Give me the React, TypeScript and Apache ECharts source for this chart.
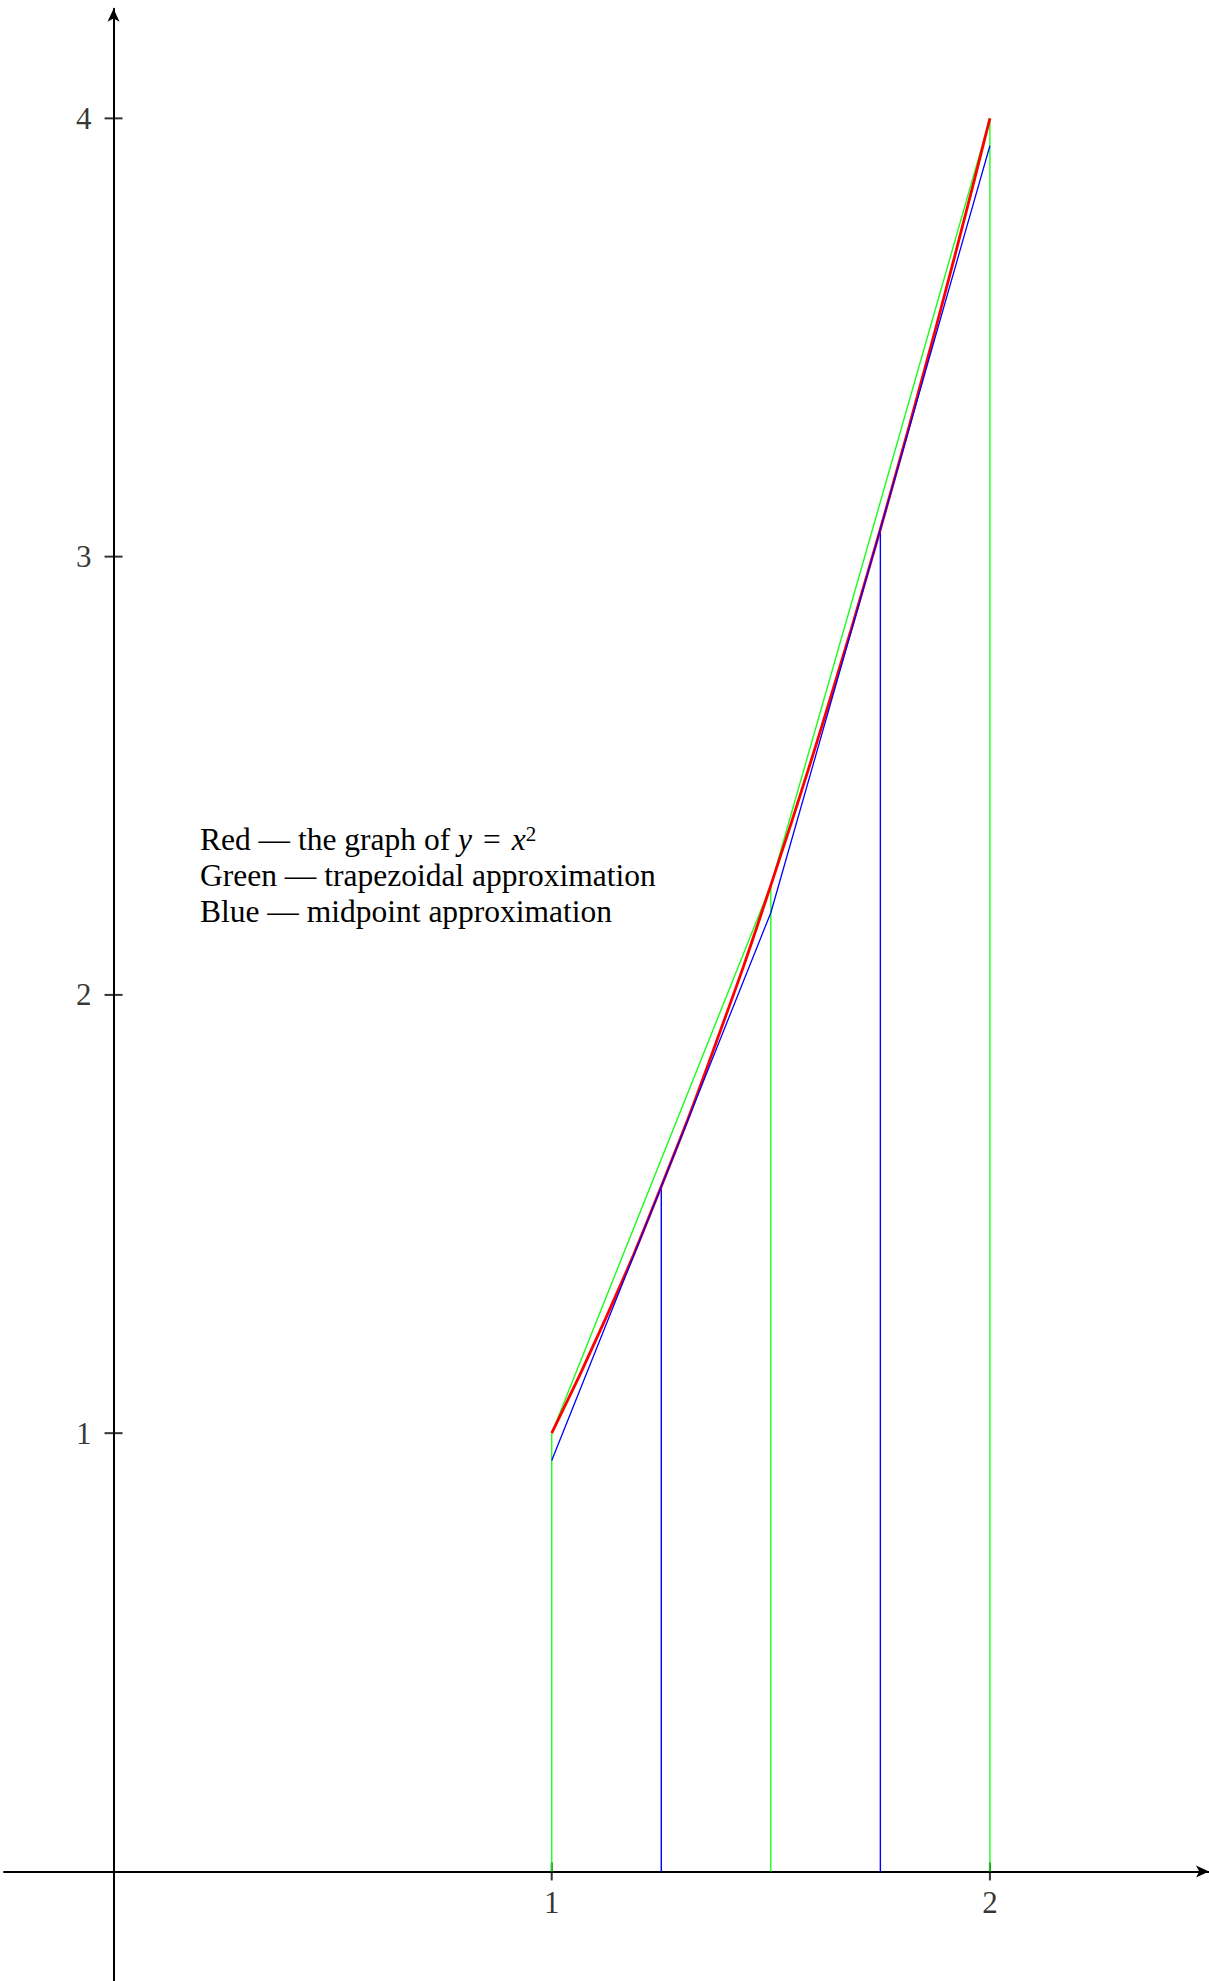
import React, { useEffect, useRef } from "react";
import * as echarts from "echarts";

// Red: y = x^2
const redX = [1, 1.125, 1.25, 1.375, 1.5, 1.625, 1.75, 1.875, 2];
const redY = [1, 1.266, 1.563, 1.891, 2.25, 2.641, 3.063, 3.516, 4];
// Green: trapezoidal approximation
const trapX = [1, 1.5, 2];
const trapY = [1, 2.25, 4];
// Blue: midpoint (tangent) approximation
const midX = [1, 1.25, 1.5, 1.75, 2];
const midY = [0.9375, 1.5625, 2.1875, 3.0625, 3.9375];
const midBarX = [1.25, 1.75];
const midBarY = [1.5625, 3.0625];
// Axis ticks
const xTicks = [1, 2];
const yTicks = [1, 2, 3, 4];
const legendLines = [
  "Red — the graph of ",
  "Green — trapezoidal approximation",
  "Blue — midpoint approximation",
];

const FONT = "'Liberation Serif', 'DejaVu Serif', serif";
const GREEN = "rgba(0,255,0,0.9)";
const BLUE = "#0000ff";
const RED = "#ff0000";
const FS = 31.5;

export default function App() {
  const ref = useRef<HTMLDivElement>(null);
  useEffect(() => {
    if (!ref.current) return;
    const chart = echarts.init(ref.current, undefined, { renderer: "svg" });
    const pair = (xs: number[], ys: number[]) => xs.map((x, i) => [x, ys[i]]);
    const verticals = (xs: number[], ys: number[], color: string, name: string) =>
      xs.map((x, i) => ({
        type: "line",
        name,
        data: [
          [x, 0],
          [x, ys[i]],
        ],
        symbol: "none",
        lineStyle: { color, width: 1.4 },
        z: 3,
      }));
    const axisLine = {
      onZero: true,
      symbol: ["none", "arrow"],
      symbolSize: [9, 13],
      lineStyle: { color: "#000", width: 2 },
    };
    const option: any = {
      animation: false,
      grid: { left: 4, right: 0, top: 8.8, bottom: 0, containLabel: false },
      xAxis: {
        type: "value",
        min: -0.25,
        max: 2.5,
        axisLine,
        axisTick: { show: false },
        axisLabel: { show: false },
        splitLine: { show: false },
      },
      yAxis: {
        type: "value",
        min: -0.25,
        max: 4.25,
        axisLine,
        axisTick: { show: false },
        axisLabel: { show: false },
        splitLine: { show: false },
      },
      series: [
        {
          type: "scatter",
          name: "xticks",
          data: xTicks.map((x) => [x, 0]),
          symbol: "rect",
          symbolSize: [2, 18],
          itemStyle: { color: "#000" },
          label: {
            show: true,
            position: "bottom",
            distance: 7,
            formatter: (p: any) => String(p.value[0]),
            fontFamily: FONT,
            fontSize: 31,
            color: "#000",
          },
          z: 2,
        },
        {
          type: "scatter",
          name: "yticks",
          data: yTicks.map((y) => [0, y]),
          symbol: "rect",
          symbolSize: [18, 2],
          itemStyle: { color: "#000" },
          label: {
            show: true,
            position: "left",
            distance: 13,
            formatter: (p: any) => String(p.value[1]),
            fontFamily: FONT,
            fontSize: 31,
            color: "#000",
          },
          z: 2,
        },
        ...verticals(trapX, trapY, GREEN, "trapbars"),
        {
          type: "line",
          name: "trapezoid",
          data: pair(trapX, trapY),
          symbol: "none",
          lineStyle: { color: GREEN, width: 1.4 },
          z: 3,
        },
        {
          type: "line",
          name: "x^2",
          data: pair(redX, redY),
          symbol: "none",
          smooth: true,
          lineStyle: { color: RED, width: 2.8 },
          z: 4,
        },
        ...verticals(midBarX, midBarY, BLUE, "midbars"),
        {
          type: "line",
          name: "midpoint",
          data: pair(midX, midY),
          symbol: "none",
          lineStyle: { color: BLUE, width: 1.3 },
          z: 5,
        },
      ],
      graphic: [
        {
          type: "text",
          left: 200,
          top: 823,
          style: {
            text: legendLines[0] + "{i|y}{eq|=}{i|x}{s|2}",
            font: `${FS}px ${FONT}`,
            fill: "#000",
            rich: {
              i: { fontFamily: FONT, fontSize: FS, fontStyle: "italic", fill: "#000" },
              eq: { fontFamily: FONT, fontSize: FS, fill: "#000", padding: [0, 11, 0, 11] },
              s: {
                fontFamily: FONT,
                fontSize: 21,
                fill: "#000",
                verticalAlign: "top",
                lineHeight: 26,
              },
            },
          },
        },
        {
          type: "text",
          left: 200,
          top: 859,
          style: { text: legendLines[1], font: `${FS}px ${FONT}`, fill: "#000" },
        },
        {
          type: "text",
          left: 200,
          top: 895,
          style: { text: legendLines[2], font: `${FS}px ${FONT}`, fill: "#000" },
        },
      ],
    };
    chart.setOption(option);
    return () => chart.dispose();
  }, []);
  return (
    <div
      ref={ref}
      style={{ position: "absolute", left: 0, top: 0, width: 1209, height: 1981 }}
    />
  );
}
